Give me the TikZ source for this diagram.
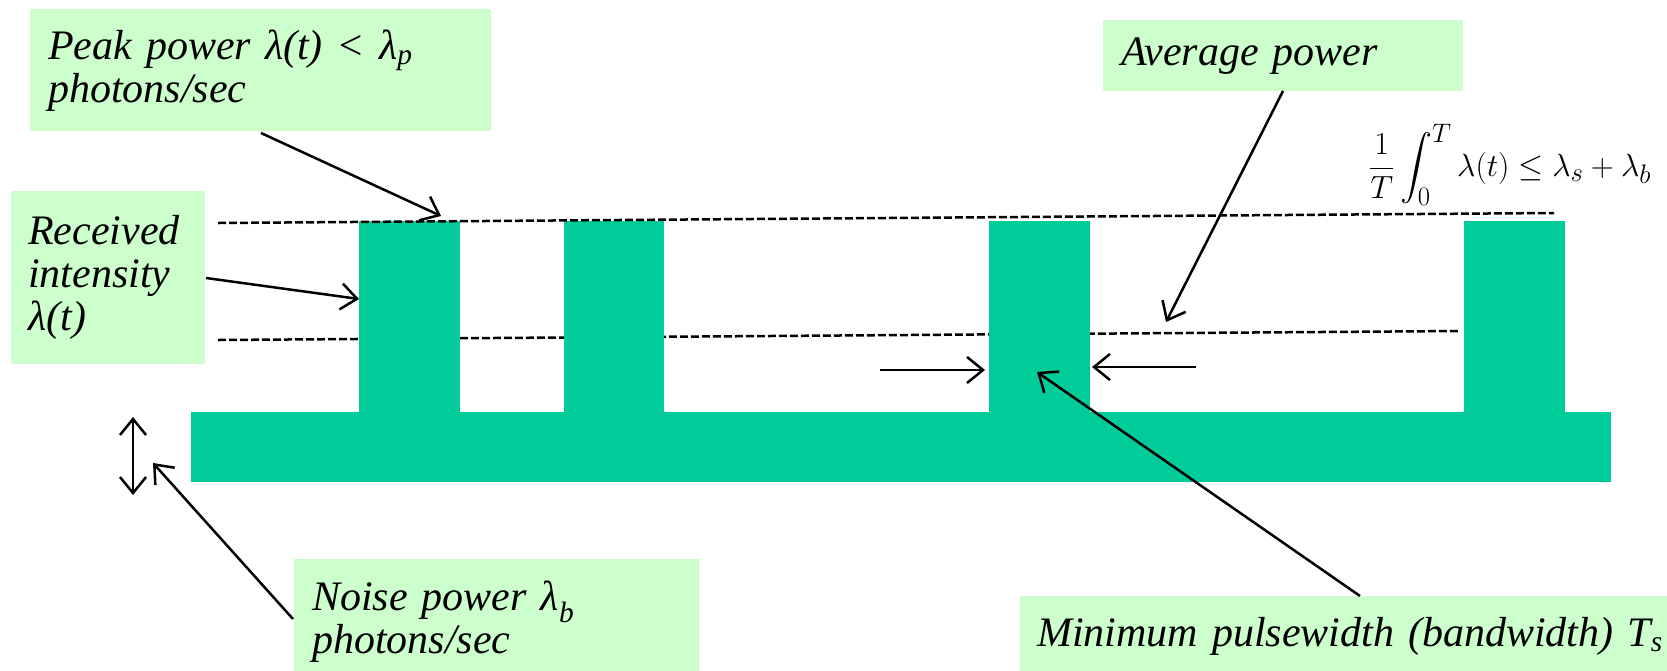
\documentclass[tikz,border=0pt]{standalone}
\usepackage{amsmath}
\usepackage{fontspec}
\setmainfont{Liberation Serif}
\usetikzlibrary{arrows.meta}
\definecolor{pulsegreen}{HTML}{00CC99}
\definecolor{notegreen}{HTML}{CCFFCC}
\begin{document}
\begin{tikzpicture}[x=1pt,y=-1pt,
  note/.style={fill=notegreen, anchor=north west, inner xsep=18pt, inner ysep=0pt,
    align=left, font=\fontsize{42}{43}\selectfont\itshape},
  pointer/.style={line width=2.5pt, -{Straight Barb[length=16pt,width=26pt]}},
  level/.style={line width=2.5pt, dash pattern=on 8pt off 3pt},
  pulse/.style={fill=pulsegreen}]
\useasboundingbox (0,0) rectangle (1667,670);

% annotation boxes
\node[note, minimum width=461pt, minimum height=122pt, text width=425pt] (peak) at (30,9)
  {Peak power λ(t) < λ\textsubscript{p}\\photons/sec};
\node[note, inner xsep=17pt, minimum width=194pt, minimum height=173pt, text width=160pt] (recv) at (11,191)
  {Received\\intensity\\λ(t)};
\node[note, minimum width=360pt, minimum height=71pt, text width=324pt] (avg) at (1103,20)
  {Average power};
\node[note, minimum width=405pt, minimum height=125pt, text width=369pt] (noise) at (294,559)
  {Noise power λ\textsubscript{b}\\photons/sec};
\node[note, inner xsep=17pt, minimum width=680pt, minimum height=80pt, text width=646pt] (minpw) at (1020,596)
  {Minimum pulsewidth (bandwidth) T\textsubscript{s}};

% average-power constraint (math fonts stop at 24.88pt, so the node is scaled)
\node[font=\fontsize{24.88}{30}\selectfont, inner sep=0pt, scale=1.29, transform shape] (avgdef) at (1510,165)
  {$\displaystyle \frac{1}{T}\int_0^T \lambda(t) \le \lambda_s + \lambda_b$};

% mean level (partly hidden by the pulses)
\draw[level] (218,340) -- (1459,331);

% received intensity: noise floor plus pulses
\fill[pulse] (191,412) rectangle (1611,482);
\fill[pulse] (359,221) rectangle (460,412);
\fill[pulse] (564,221) rectangle (664,412);
\fill[pulse] (989,221) rectangle (1090,412);
\fill[pulse] (1464,221) rectangle (1565,412);

% peak level
\draw[level] (218,223) -- (1554,213);

% arrow end points
\coordinate (peakS) at (261,133);
\coordinate (peakT) at (441,216);
\coordinate (recvS) at (206,278);
\coordinate (recvT) at (359,299);
\coordinate (avgS) at (1283,91);
\coordinate (avgT) at (1166,322);
\coordinate (noiseS) at (293,619);
\coordinate (noiseT) at (153,463);
\coordinate (floorTop) at (133,417);
\coordinate (floorBot) at (133,495);
\coordinate (wL) at (880,370);
\coordinate (wLT) at (985,370);
\coordinate (wR) at (1196,367);
\coordinate (wRT) at (1092,367);
\coordinate (minS) at (1360,596);
\coordinate (minT) at (1037,372);

\draw[pointer] (peakS) -- (peakT);
\draw[pointer] (recvS) -- (recvT);
\draw[pointer] (avgS) -- (avgT);
\draw[pointer] (noiseS) -- (noiseT);
\draw[line width=2.5pt, {Straight Barb[length=16pt,width=26pt]}-{Straight Barb[length=16pt,width=26pt]}] (floorTop) -- (floorBot);
\draw[pointer] (wL) -- (wLT);
\draw[pointer] (wR) -- (wRT);
\draw[pointer] (minS) -- (minT);
\end{tikzpicture}
\end{document}
